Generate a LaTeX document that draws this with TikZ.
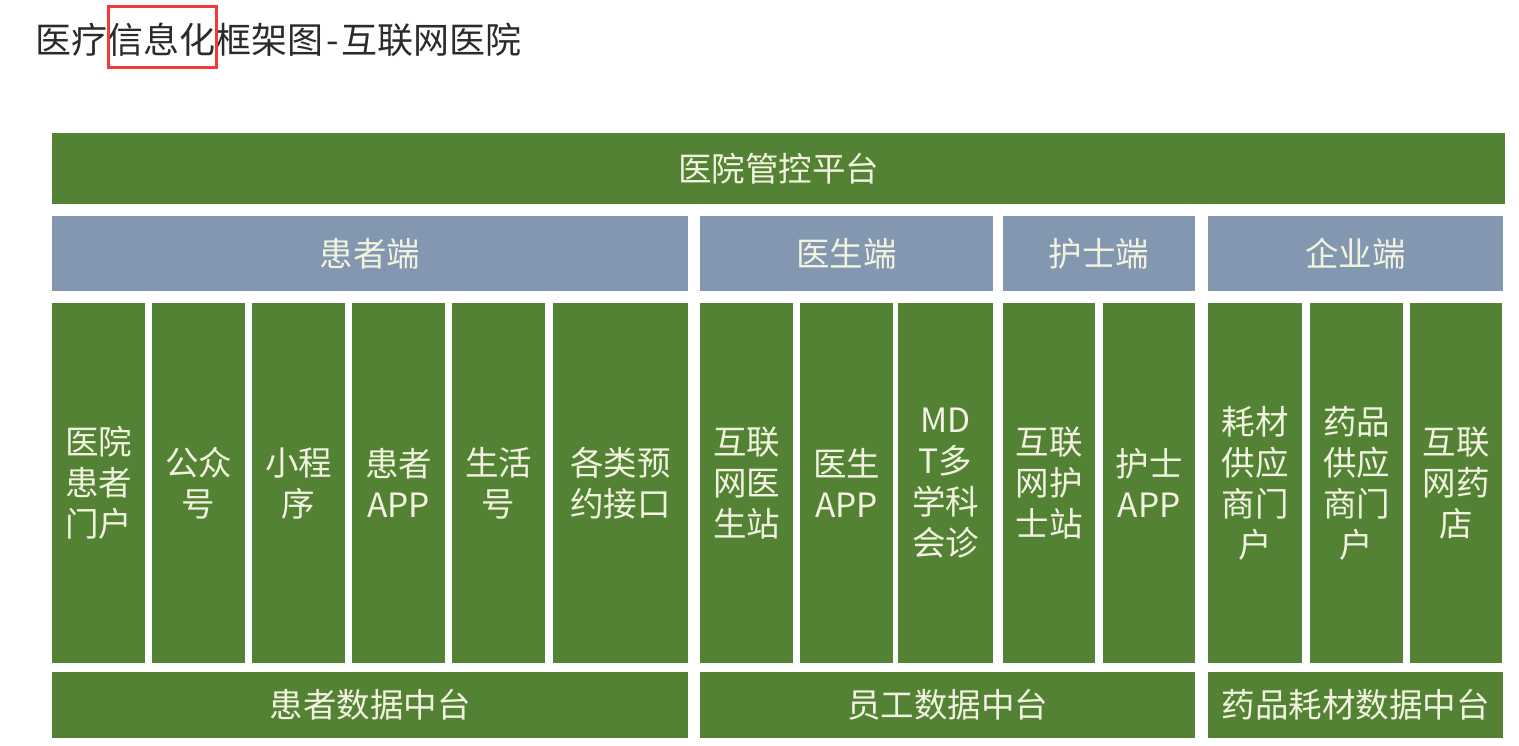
\documentclass[tikz,border=0pt]{standalone}
\usepackage{fontspec}
\setmainfont{Noto Sans CJK SC}
\usetikzlibrary{positioning}
\definecolor{mGreen}{HTML}{548235}
\definecolor{mSlate}{HTML}{8497B0}
\definecolor{mCream}{HTML}{F1F3DF}
\definecolor{mInk}{HTML}{2B2B2B}
\definecolor{mMark}{HTML}{F23A3A}

\begin{document}
\begin{tikzpicture}[
  x=1pt, y=-1pt,
  every node/.style={inner sep=0pt, align=center, text=mCream,
    font={\fontsize{33.5}{41}\selectfont}},
  block/.style={fill=mGreen, anchor=north west},
  topbar/.style={block, minimum height=71pt},
  header/.style={fill=mSlate, anchor=north west, minimum height=75pt},
  column/.style={block, minimum width=93pt, minimum height=360pt},
  base/.style={block, minimum height=66pt},
  title/.style={text=mInk, anchor=west, font={\fontsize{36}{40}\selectfont}},
  redmark/.style={draw=mMark, line width=3pt}
]
\useasboundingbox (0,0) rectangle (1519,745);

% title
\node[title] (title) at (35,40) {医疗信息化框架图{\hspace{3pt}}-{\hspace{3pt}}互联网医院};
\draw[redmark] (108,6) rectangle (216,67);

% control platform
\node[topbar, minimum width=1453pt] (ctrl) at (52,133) {医院管控平台};

% client headers
\node[header, minimum width=636pt] (patient) at (52,216) {患者端};
\node[header, minimum width=293pt] (doctor) at (700,216) {医生端};
\node[header, minimum width=192pt] (nurse) at (1003,216) {护士端};
\node[header, minimum width=295pt] (firm) at (1208,216) {企业端};

% patient side
\node[column] (portal) at (52,303) {医院\\患者\\门户};
\node[column] (wechat) at (152,303) {公众\\号};
\node[column] (miniapp) at (252,303) {小程\\序};
\node[column] (papp) at (352,303) {患者\\APP};
\node[column] (alipay) at (452,303) {生活\\号};
\node[column, minimum width=135pt] (booking) at (553,303) {各类预\\约接口};

% doctor side
\node[column] (docweb) at (700,303) {互联\\网医\\生站};
\node[column] (dapp) at (800,303) {医生\\APP};
\node[column, minimum width=95pt] (mdt) at (898,303) {MD\\T多\\学科\\会诊};

% nurse side
\node[column, minimum width=92pt] (nurweb) at (1003,303) {互联\\网护\\士站};
\node[column, minimum width=92pt] (napp) at (1103,303) {护士\\APP};

% enterprise side
\node[column, minimum width=94pt] (supply) at (1208,303) {耗材\\供应\\商门\\户};
\node[column] (drugsup) at (1310,303) {药品\\供应\\商门\\户};
\node[column, minimum width=92pt] (pharm) at (1410,303) {互联\\网药\\店};

% data platforms
\node[base, minimum width=636pt] (pdata) at (52,672) {患者数据中台};
\node[base, minimum width=495pt] (sdata) at (700,672) {员工数据中台};
\node[base, minimum width=295pt] (ddata) at (1208,672) {药品耗材数据中台};

\end{tikzpicture}
\end{document}
